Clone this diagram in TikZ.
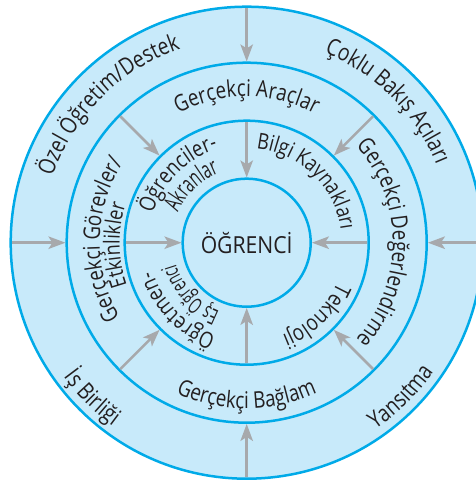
\documentclass[tikz,border=0pt]{standalone}
\usepackage{fontspec}
\setmainfont[FakeStretch=0.82]{Open Sans}
\newfontfamily\condfont[FakeStretch=0.62]{Open Sans}
\newfontfamily\centrefont[FakeStretch=0.9]{Open Sans}
\usetikzlibrary{arrows.meta,decorations.text}
\definecolor{ringline}{RGB}{0,170,232}
\definecolor{ringfill}{RGB}{200,234,250}
\definecolor{arrowgray}{RGB}{167,169,172}
\definecolor{txt}{RGB}{35,31,32}
\newcommand\fs[1]{\fontsize{#1}{#1}\selectfont}
% clockwise arc text (tops outward): font, radius, centre angle, text
\newcommand\cwtext[4]{\path[decorate,decoration={text along path,text align=center,text color=txt,text={|#1|#4}}] (#3+85:#2) arc[start angle=#3+85,end angle=#3-85,radius=#2];}
% counter-clockwise arc text (tops inward)
\newcommand\ccwtext[4]{\path[decorate,decoration={text along path,text align=center,text color=txt,text={|#1|#4}}] (#3-85:#2) arc[start angle=#3-85,end angle=#3+85,radius=#2];}
\tikzset{
  ring/.style={circle,draw=ringline,line width=2.5pt,inner sep=0pt,outer sep=0pt},
  inarrow/.style={draw=arrowgray,line width=2.5pt,shorten <=1.25pt,shorten >=1.25pt,
    -{Stealth[length=17pt,width=12.5pt,inset=4pt]}},
}
\begin{document}
\begin{tikzpicture}
\useasboundingbox (-246.7pt,-237.3pt) rectangle (229.3pt,242.7pt);
\node[ring,fill=ringfill,minimum size=472pt] (c1) at (0,0) {};
\node[ring,minimum size=360pt] (c2) at (0,0) {};
\node[ring,minimum size=244pt] (c3) at (0,0) {};
\node[ring,minimum size=128pt,text=txt,font=\centrefont\fs{23.5}] (c4) at (0,0) {ÖĞRENCİ};
% outer ring arrows
\foreach \a in {90,180,270,0} \draw[inarrow] (c1.\a) -- (c2.\a);
% middle ring arrows
\foreach \a in {45,135,225,315} \draw[inarrow] (c2.\a) -- (c3.\a);
% inner ring arrows
\foreach \a in {90,180,270,0} \draw[inarrow] (c3.\a) -- (c4.\a);
% outer ring texts
\cwtext{\fs{23.5}}{205pt}{135}{Özel Öğretim/Destek}
\cwtext{\fs{23.5}}{205pt}{45}{Çoklu Bakış Açıları}
\ccwtext{\fs{23.5}}{227pt}{225}{İş Birliği}
\ccwtext{\fs{23.5}}{227pt}{315}{Yansıtma}
% middle ring texts
\cwtext{\fs{23}}{146pt}{90}{Gerçekçi Araçlar}
\cwtext{\fs{23}}{146pt}{0}{Gerçekçi Değerlendirme}
\ccwtext{\fs{23}}{166pt}{270}{Gerçekçi Bağlam}
\cwtext{\fs{23}}{147pt}{178.8}{Gerçekçi Görevler/}
\cwtext{\fs{22}}{127pt}{181}{Etkinlikler}
% inner ring texts
\cwtext{\fs{22.5}}{98pt}{135}{Öğrenciler-}
\cwtext{\condfont\fs{24}}{75pt}{134}{Akranlar}
\cwtext{\fs{22}}{95pt}{45.8}{Bilgi Kaynakları}
\cwtext{\fs{22.5}}{99pt}{-46.5}{Teknoloji}
\cwtext{\fs{22.5}}{98pt}{224.3}{Öğretmen-}
\cwtext{\condfont\fs{22}}{74pt}{222.6}{Eş Öğrenci}
\end{tikzpicture}
\end{document}
